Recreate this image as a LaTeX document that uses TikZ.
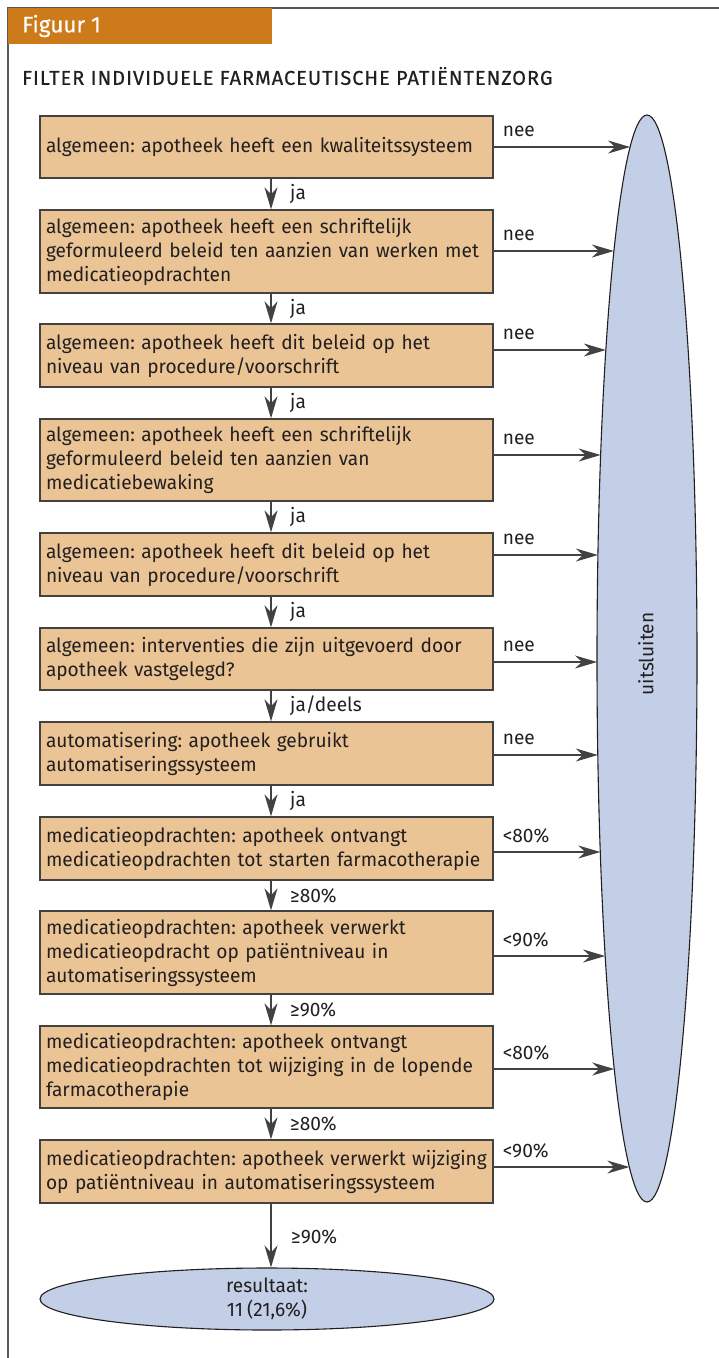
\documentclass[tikz,border=0pt]{standalone}
\usepackage{fontspec}
\setmainfont[WordSpace=0.8, FakeStretch=0.98]{Fira Sans}
\newfontfamily\titlefont[FakeBold=0.5, LetterSpace=5]{Fira Sans}
\newfontfamily\figfont[FakeBold=0.4]{Fira Sans}
\usetikzlibrary{arrows.meta,shapes.geometric,calc}
\definecolor{hdr}{HTML}{CC7A1A}
\definecolor{boxfill}{HTML}{EAC495}
\definecolor{ellfill}{HTML}{C3CFE6}
\definecolor{ink}{HTML}{231F20}
\newcommand{\bl}[1]{\mbox{#1}}
\frenchspacing
\tikzset{
  stepbox/.style={draw=ink!85, line width=1.3pt, fill=boxfill, text width=441pt, inner sep=6pt,
    minimum width=453pt, align=left, font=\fontsize{19.5}{24}\selectfont, text=ink, anchor=center},
  arr/.style={draw=ink!85, line width=1.2pt, -{Stealth[length=22pt,width=13pt,inset=7pt]}},
  lbl/.style={font=\fontsize{19.5}{24}\selectfont, text=ink, inner sep=0pt},
  ell/.style={ellipse, draw=ink, line width=1.1pt, fill=ellfill, inner sep=0pt}
}
\begin{document}
\begin{tikzpicture}[x=1pt,y=-1pt]
\useasboundingbox (0,0) rectangle (719,1358);
% frame
\draw[draw=ink!75, line width=1.2pt] (719,8) -- (8,8) -- (8,1358);
\fill[hdr] (8,8) rectangle (272,44);
\node[anchor=west, text=white, inner sep=0pt, font=\figfont\fontsize{22.5}{24}\selectfont] (fig) at (22,26) {Figuur 1};
\node[anchor=west, text=ink, inner sep=0pt, font=\titlefont\fontsize{20}{24}\selectfont] (title) at (22,76) {FILTER INDIVIDUELE FARMACEUTISCHE PATIËNTENZORG};
\coordinate (col) at (271,0);
% boxes
\node[stepbox, minimum height=62pt] (b1) at (266.5,147) {\bl{algemeen: apotheek heeft een kwaliteitssysteem}};
\node[stepbox, minimum height=83pt] (b2) at (266.5,251.5) {\bl{algemeen: apotheek heeft een schriftelijk}\\\bl{geformuleerd beleid ten aanzien van werken met}\\\bl{medicatieopdrachten}};
\node[stepbox, minimum height=63pt] (b3) at (266.5,355.5) {\bl{algemeen: apotheek heeft dit beleid op het}\\\bl{niveau van procedure/voorschrift}};
\node[stepbox, minimum height=82pt] (b4) at (266.5,460) {\bl{algemeen: apotheek heeft een schriftelijk}\\\bl{geformuleerd beleid ten aanzien van}\\\bl{medicatiebewaking}};
\node[stepbox, minimum height=63pt] (b5) at (266.5,564.5) {\bl{algemeen: apotheek heeft dit beleid op het}\\\bl{niveau van procedure/voorschrift}};
\node[stepbox, minimum height=62pt] (b6) at (266.5,659) {\bl{algemeen: interventies die zijn uitgevoerd door}\\\bl{apotheek vastgelegd?}};
\node[stepbox, minimum height=63pt] (b7) at (266.5,753.5) {\bl{automatisering: apotheek gebruikt}\\\bl{automatiseringssysteem}};
\node[stepbox, minimum height=63pt] (b8) at (266.5,848.5) {\bl{medicatieopdrachten: apotheek ontvangt}\\\bl{medicatieopdrachten tot starten farmacotherapie}};
\node[stepbox, minimum height=83pt] (b9) at (266.5,952.5) {\bl{medicatieopdrachten: apotheek verwerkt}\\\bl{medicatieopdracht op patiëntniveau in}\\\bl{automatiseringssysteem}};
\node[stepbox, minimum height=82pt] (b10) at (266.5,1067) {\bl{medicatieopdrachten: apotheek ontvangt}\\\bl{medicatieopdrachten tot wijziging in de lopende}\\\bl{farmacotherapie}};
\node[stepbox, minimum height=63pt] (b11) at (266.5,1171.5) {\bl{medicatieopdrachten: apotheek verwerkt wijziging}\\\bl{op patiëntniveau in automatiseringssysteem}};
% ellipses
\node[ell, minimum width=100pt, minimum height=1087pt] (ex) at (647,658.5) {};
\node[rotate=90, lbl] (extext) at (646,654) {uitsluiten};
\node[ell, minimum width=454pt, minimum height=62pt, align=center, font=\fontsize{19.5}{24}\selectfont, text=ink] (res) at (267,1299) {resultaat:\\11 (21,6\%)};
% vertical arrows
\foreach \a/\b/\t in {1/2/ja, 2/3/ja, 3/4/ja, 4/5/ja, 5/6/ja, 6/7/{ja/deels}, 7/8/ja, 8/9/{≥80\%}, 9/10/{≥90\%}, 10/11/{≥80\%}} {
  \draw[arr] (b\a.south -| col) -- (b\b.north -| col);
  \node[lbl, anchor=west] (v\a) at ($(b\a.south -| col)!0.5!(b\b.north -| col) + (19,0)$) {\t};
}
\draw[arr] (b11.south -| col) -- (res.north -| col);
\node[lbl, anchor=west] (v11) at (291,1237) {≥90\%};
% horizontal arrows
\foreach \i/\yy/\t in {1/147/nee, 2/251/nee, 3/350/nee, 4/455/nee, 5/555/nee, 6/662/nee, 7/755/nee, 8/852/{<80\%}, 9/956/{<90\%}, 10/1069/{<80\%}, 11/1167/{<90\%}} {
  \coordinate (s\i) at (0,\yy);
  \coordinate (e\i) at ({647-50*sqrt(1-((\yy-658.5)/543.5)^2)},\yy);
  \draw[arr] (b\i.east |- s\i) -- (e\i);
  \node[lbl, anchor=west] (r\i) at ([xshift=9pt, yshift=16pt] b\i.east |- s\i) {\t};
}
\end{tikzpicture}
\end{document}
